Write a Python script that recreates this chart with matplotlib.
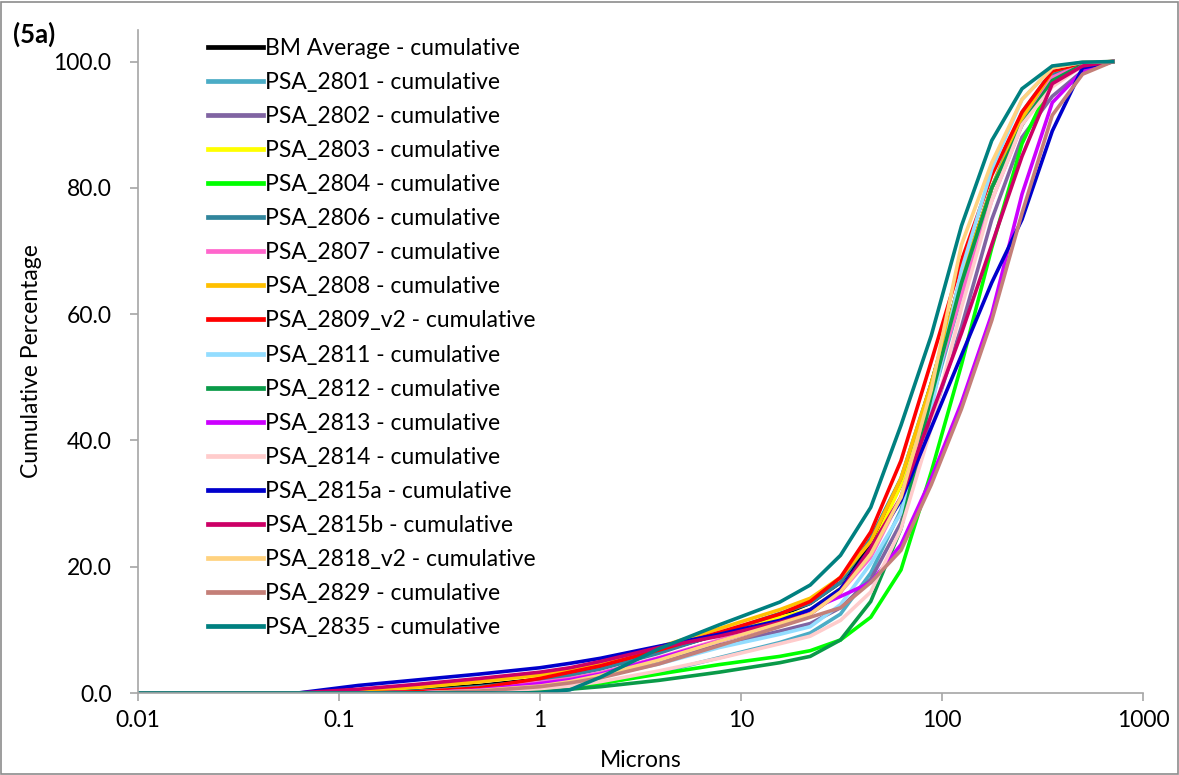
import matplotlib
matplotlib.use('Agg')
import matplotlib.pyplot as plt
from matplotlib.patches import Rectangle
from matplotlib.ticker import FixedLocator, FixedFormatter, NullLocator

plt.rcParams['font.family'] = ['Lato', 'DejaVu Sans']

# particle sizes (microns)
sizes = [0.01, 0.0625, 0.125, 0.25, 0.5, 1.0, 1.41, 2.0, 3.9, 7.8, 15.6, 22.1,
         31.25, 44.2, 62.5, 88.4, 125, 176.8, 250, 353.6, 500, 707.1]

# cumulative percentages
bm_avg = [0, 0, 0.2, 0.6, 1.2, 2.2, 3.0, 4.0, 6.5, 9.3, 12.3, 14.2, 17.5, 23.5, 33, 49, 66, 80, 90.5, 97.5, 99.6, 100]
psa_2801 = [0, 0, 0, 0, 0.2, 0.5, 0.9, 1.5, 3.2, 5.6, 8.0, 9.5, 12.5, 19, 29, 46, 63, 80, 92, 98.5, 99.8, 100]
psa_2802 = [0, 0, 0, 0.2, 0.8, 1.6, 2.2, 3.0, 5.0, 7.6, 9.8, 11, 13.5, 18, 27, 43, 58, 75, 88, 94.5, 98.5, 100]
psa_2803 = [0, 0, 0.3, 0.9, 1.8, 2.8, 3.6, 4.5, 6.8, 9.3, 12, 13.2, 16.5, 22.5, 33, 49, 65, 80, 91, 98, 99.7, 100]
psa_2804 = [0, 0, 0, 0, 0, 0.4, 0.9, 1.5, 3.0, 4.5, 5.8, 6.7, 8.4, 12, 19.5, 35, 52, 70.5, 87, 97, 99.5, 100]
psa_2806 = [0, 0, 0, 0.3, 1.0, 2.0, 2.8, 3.8, 6.3, 9.4, 12.6, 14.2, 17.5, 24.5, 34, 49, 65, 80, 91, 98, 99.7, 100]
psa_2807 = [0, 0, 0, 0.2, 0.8, 1.7, 2.3, 3.2, 5.6, 8.4, 11.3, 12.8, 16, 21.5, 31, 47, 63, 78, 90, 97.5, 99.6, 100]
psa_2808 = [0, 0, 0.4, 1.0, 1.8, 2.9, 3.7, 4.7, 7.3, 10.2, 13.2, 15.0, 18.3, 24, 34, 49, 66, 80, 91, 98.5, 99.8, 100]
psa_2809_v2 = [0, 0, 0, 0.2, 0.8, 2.3, 3.3, 4.3, 6.8, 9.6, 12.5, 14.5, 18.3, 25.5, 36.8, 52.5, 68.5, 82, 92, 98.5, 99.8, 100]
psa_2811 = [0, 0, 0, 0, 0.4, 1.2, 1.8, 2.6, 4.6, 7.2, 9.3, 10.5, 14, 20.5, 28.5, 45, 67, 83, 94, 99, 99.9, 100]
psa_2812 = [0, 0, 0, 0, 0, 0.2, 0.6, 1.0, 2.0, 3.3, 4.8, 5.8, 8.4, 14.5, 26, 47, 65, 80, 90, 97, 99.5, 100]
psa_2813 = [0, 0, 0, 0, 0.5, 1.5, 2.1, 3.0, 5.5, 8.2, 11, 13.2, 15.3, 17.5, 23.5, 34, 46, 60, 79, 93.5, 98.5, 100]
psa_2814 = [0, 0, 0, 0, 0.2, 0.7, 1.1, 1.8, 3.5, 5.5, 7.8, 9, 11.5, 16, 26, 42, 61, 78, 90, 96, 99.3, 100]
psa_2815a = [0, 0, 1.2, 2.1, 3.0, 4.0, 4.7, 5.5, 7.4, 9.3, 11.5, 13.2, 16.5, 23, 30.5, 42, 53.5, 65, 75, 89, 99, 100]
psa_2815b = [0, 0, 0.6, 1.4, 2.3, 3.3, 4.0, 5.0, 7.2, 9.0, 11.2, 12.5, 16, 23, 31, 44, 57, 71, 85, 96.5, 99.3, 100]
psa_2818_v2 = [0, 0, 0, 0, 0.4, 1.1, 1.8, 2.8, 5.2, 8.2, 11, 12.5, 16, 22, 31, 48, 71, 84, 94, 99, 99.9, 100]
psa_2829 = [0, 0, 0, 0, 0.3, 1.0, 1.6, 2.4, 4.6, 7.5, 10.5, 12, 13.5, 17.5, 22.6, 33, 45, 59, 76, 91.5, 98, 100]
psa_2835 = [0, 0, 0, 0, 0, 0, 0.5, 2.5, 7.0, 10.8, 14.4, 17.1, 21.8, 29.4, 42.4, 56.6, 74, 87.5, 95.7, 99.3, 99.9, 100]

labels = ['BM Average - cumulative', 'PSA_2801 - cumulative', 'PSA_2802 - cumulative',
          'PSA_2803 - cumulative', 'PSA_2804 - cumulative', 'PSA_2806 - cumulative',
          'PSA_2807 - cumulative', 'PSA_2808 - cumulative', 'PSA_2809_v2 - cumulative',
          'PSA_2811 - cumulative', 'PSA_2812 - cumulative', 'PSA_2813 - cumulative',
          'PSA_2814 - cumulative', 'PSA_2815a - cumulative', 'PSA_2815b - cumulative',
          'PSA_2818_v2 - cumulative', 'PSA_2829 - cumulative', 'PSA_2835 - cumulative']
series = [bm_avg, psa_2801, psa_2802, psa_2803, psa_2804, psa_2806, psa_2807, psa_2808,
          psa_2809_v2, psa_2811, psa_2812, psa_2813, psa_2814, psa_2815a, psa_2815b,
          psa_2818_v2, psa_2829, psa_2835]
colors = ['#000000', '#4BACC6', '#8064A2', '#FFFF00', '#00FF00', '#31859C', '#FF66CC',
          '#FFC000', '#FF0000', '#93DDFF', '#0A9A48', '#CC00FF', '#FFCCCC', '#0000CC',
          '#CC0066', '#FFD27F', '#C47F78', '#008080']

x_ticks = [0.01, 0.1, 1, 10, 100, 1000]
x_tick_labels = ['0.01', '0.1', '1', '10', '100', '1000']
y_ticks = [0, 20, 40, 60, 80, 100]

fig = plt.figure(figsize=(11.79, 7.75), dpi=100)
ax = fig.add_axes([0.117, 0.1058, 0.8525, 0.8555])

for vals, lab, col in zip(series, labels, colors):
    ax.plot(sizes, vals, color=col, linewidth=2.6, label=lab, solid_joinstyle='miter')

ax.set_xscale('log')
ax.set_xlim(0.01, 1000)
ax.set_ylim(0, 105)
ax.xaxis.set_major_locator(FixedLocator(x_ticks))
ax.xaxis.set_major_formatter(FixedFormatter(x_tick_labels))
ax.xaxis.set_minor_locator(NullLocator())
ax.set_yticks(y_ticks)
ax.set_yticklabels([f'{v:.1f}' for v in y_ticks])

grey = '#A6A6A6'
for side in ['top', 'right']:
    ax.spines[side].set_visible(False)
for side in ['left', 'bottom']:
    ax.spines[side].set_color(grey)
    ax.spines[side].set_linewidth(1.2)
ax.tick_params(axis='both', direction='out', length=6, width=1.2, color=grey,
               labelsize=16.5, labelcolor='black')
ax.tick_params(axis='x', pad=6)
ax.tick_params(axis='y', pad=13)

ax.set_xlabel('Microns', fontsize=16.5, labelpad=14)
ax.set_ylabel('Cumulative Percentage', fontsize=16.5, labelpad=8)

leg = ax.legend(loc='upper left', bbox_to_anchor=(0.1765, 0.951), bbox_transform=fig.transFigure,
                frameon=False, fontsize=16.5, handlelength=2.4, handletextpad=0.1,
                labelspacing=0.57, borderpad=0, borderaxespad=0)
for h in leg.get_lines():
    h.set_linewidth(3.4)

fig.text(0.011, 0.972, '(5a)', fontsize=18.5, fontweight='bold', va='top', ha='left')

fig.patches.append(Rectangle((0.001, 0.001), 0.998, 0.997, transform=fig.transFigure,
                             fill=False, edgecolor='#8C8C8C', linewidth=1.2))

fig.savefig('out.png', dpi=100)
